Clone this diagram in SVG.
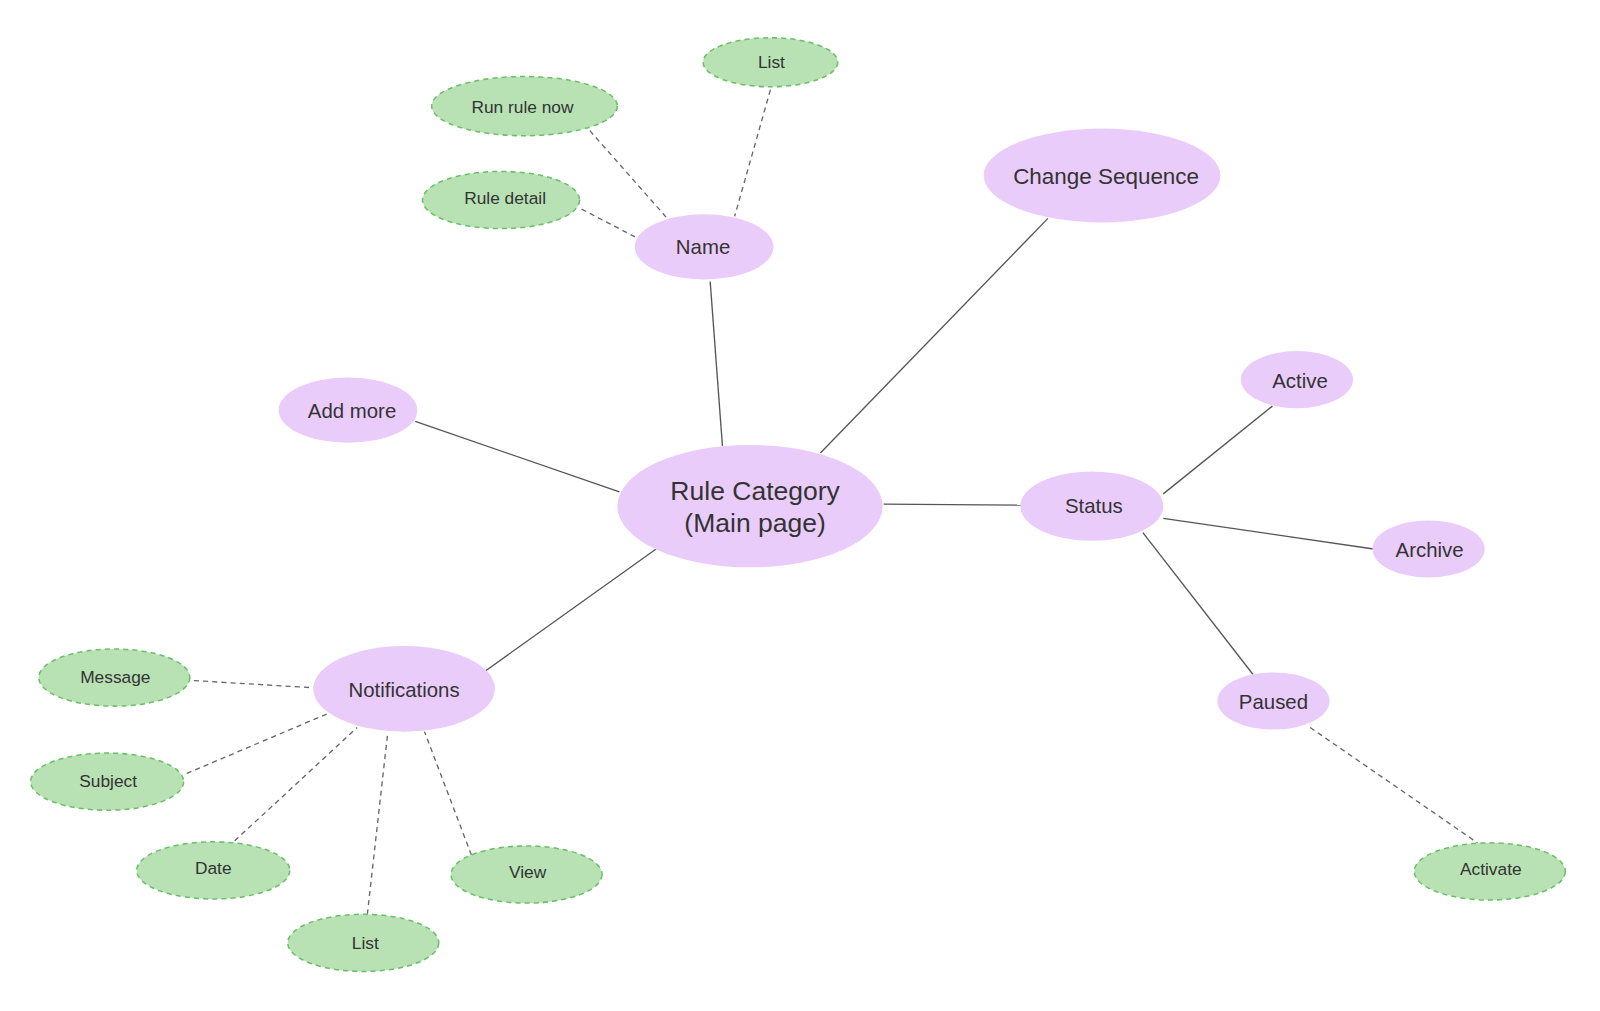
<svg xmlns="http://www.w3.org/2000/svg" width="1600" height="1011" viewBox="0 0 1600 1011">
<style>
.p{fill:#EACCFB;stroke:none}
.g{fill:#B8E2B4;stroke:#6DBE69;stroke-width:1.5;stroke-dasharray:5,4}
.s{stroke:#555;stroke-width:1.3;fill:none}
.d{stroke:#666;stroke-width:1.3;fill:none;stroke-dasharray:5,4}
text{font-family:"Liberation Sans",Arial,sans-serif;fill:#333;text-anchor:middle;dominant-baseline:central}
.t1{font-size:26px}.t2{font-size:22px}.t3{font-size:20px}.t4{font-size:17px}
</style>
<rect width="1600" height="1011" fill="#fff"/>
<g transform="scale(1.0204)">
<g id="connectors">
<line class="s" x1="696" y1="276" x2="708" y2="437"/>
<line class="s" x1="1027" y1="214" x2="804" y2="444"/>
<line class="s" x1="407" y1="413" x2="607" y2="482"/>
<line class="s" x1="866" y1="494" x2="1001" y2="495"/>
<line class="s" x1="1140" y1="484" x2="1247" y2="398"/>
<line class="s" x1="1140" y1="508" x2="1346" y2="538"/>
<line class="s" x1="1120" y1="522" x2="1228" y2="661"/>
<line class="s" x1="475" y1="658" x2="643" y2="538"/>
<line class="d" x1="1284" y1="713" x2="1448" y2="826"/>
<line class="d" x1="190" y1="667" x2="307" y2="674"/>
<line class="d" x1="183" y1="758" x2="322" y2="699"/>
<line class="d" x1="230" y1="824" x2="350" y2="713"/>
<line class="d" x1="360" y1="896" x2="380" y2="718"/>
<line class="d" x1="462" y1="838" x2="416" y2="717"/>
<line class="d" x1="578" y1="128" x2="653" y2="213"/>
<line class="d" x1="570" y1="205" x2="624" y2="233"/>
<line class="d" x1="755" y1="88" x2="720" y2="212"/>
</g>
<g id="center"><ellipse class="p" cx="735" cy="496" rx="130" ry="60"/><text class="t1" x="740" y="481">Rule Category</text><text class="t1" x="740" y="513">(Main page)</text></g>
<g id="name"><ellipse class="p" cx="690" cy="242" rx="68" ry="32"/><text class="t3" x="689" y="242">Name</text></g>
<g id="changeseq"><ellipse class="p" cx="1080" cy="172" rx="116" ry="46"/><text class="t2" x="1084" y="173">Change Sequence</text></g>
<g id="addmore"><ellipse class="p" cx="341" cy="402" rx="68" ry="32"/><text class="t3" x="345" y="403">Add more</text></g>
<g id="status"><ellipse class="p" cx="1070" cy="496" rx="70" ry="34"/><text class="t3" x="1072" y="496">Status</text></g>
<g id="active"><ellipse class="p" cx="1271" cy="372" rx="55" ry="28"/><text class="t3" x="1274" y="373">Active</text></g>
<g id="archive"><ellipse class="p" cx="1400" cy="538" rx="55" ry="28"/><text class="t3" x="1401" y="539">Archive</text></g>
<g id="paused"><ellipse class="p" cx="1248" cy="687" rx="55" ry="28"/><text class="t3" x="1248" y="688">Paused</text></g>
<g id="notifications"><ellipse class="p" cx="396" cy="675" rx="89" ry="42"/><text class="t3" x="396" y="676">Notifications</text></g>
<g id="activate"><ellipse class="g" cx="1460" cy="854" rx="74" ry="28"/><text class="t4" x="1461" y="852">Activate</text></g>
<g id="message"><ellipse class="g" cx="112" cy="664" rx="74" ry="28"/><text class="t4" x="113" y="663">Message</text></g>
<g id="subject"><ellipse class="g" cx="105" cy="766" rx="75" ry="28"/><text class="t4" x="106" y="765">Subject</text></g>
<g id="date"><ellipse class="g" cx="209" cy="853" rx="75" ry="28"/><text class="t4" x="209" y="851">Date</text></g>
<g id="list-bottom"><ellipse class="g" cx="356" cy="924" rx="74" ry="28"/><text class="t4" x="358" y="924">List</text></g>
<g id="view"><ellipse class="g" cx="516" cy="857" rx="74" ry="28"/><text class="t4" x="517" y="855">View</text></g>
<g id="runrule"><ellipse class="g" cx="514" cy="104" rx="91" ry="29"/><text class="t4" x="512" y="105">Run rule now</text></g>
<g id="ruledetail"><ellipse class="g" cx="491" cy="196" rx="77" ry="28"/><text class="t4" x="495" y="194">Rule detail</text></g>
<g id="list-top"><ellipse class="g" cx="755" cy="61" rx="66" ry="24"/><text class="t4" x="756" y="61">List</text></g>
</g>
</svg>
